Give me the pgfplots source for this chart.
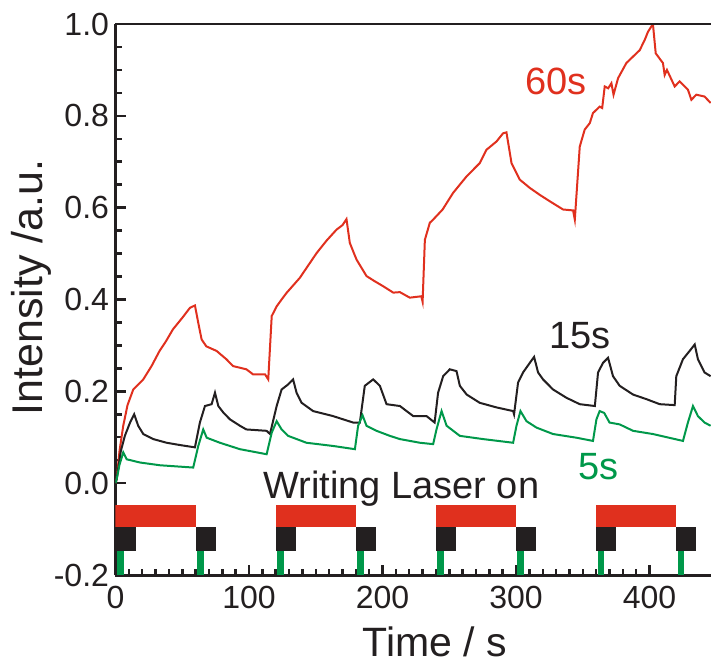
\documentclass[border=0pt]{standalone}
\usepackage{fontspec}
\setmainfont{Liberation Sans}
\usepackage{pgfplots}
\pgfplotsset{compat=1.18}
\definecolor{cred}{HTML}{E0301E}
\definecolor{cblack}{HTML}{231F20}
\definecolor{cgreen}{HTML}{00984A}
\begin{document}
\begin{tikzpicture}
\begin{axis}[
  scale only axis, width=595.5pt, height=551pt,
  xmin=0, xmax=446, ymin=-0.2, ymax=1.0,
  axis lines*=left,
  axis line style={line width=3pt, cblack},
  tick align=inside,
  xtick={0,100,200,300,400}, minor x tick num=9,
  ytick={-0.2,0,0.2,0.4,0.6,0.8,1.0}, minor y tick num=3,
  major tick length=10pt, minor tick length=6pt,
  every tick/.style={line width=2.5pt, cblack},
  /pgf/number format/assume math mode=true,
  tick label style={font=\fontsize{32}{32}\selectfont, text=cblack},
  xticklabel style={yshift=-8pt},
  yticklabel style={xshift=-3pt, /pgf/number format/.cd, fixed, fixed zerofill, precision=1},
  xlabel={Time / s}, ylabel={Intensity /a.u.},
  every axis x label/.style={at={(axis description cs:0.5365,-0.1488)}, anchor=base,
    font=\fontsize{41}{41}\selectfont, text=cblack},
  every axis y label/.style={at={(axis description cs:-0.1234,0.522)}, rotate=90, anchor=base,
    font=\fontsize{43}{43}\selectfont, text=cblack},
  clip=true,
]
\coordinate (O) at (rel axis cs:0,0);
% laser-on indicator bars
\addplot[fill=cred, draw=none] coordinates {(0,-0.047) (60,-0.047) (60,-0.096) (0,-0.096)} -- cycle;
\addplot[fill=cred, draw=none] coordinates {(120,-0.047) (180,-0.047) (180,-0.096) (120,-0.096)} -- cycle;
\addplot[fill=cred, draw=none] coordinates {(240,-0.047) (300,-0.047) (300,-0.096) (240,-0.096)} -- cycle;
\addplot[fill=cred, draw=none] coordinates {(360,-0.047) (420,-0.047) (420,-0.096) (360,-0.096)} -- cycle;
\foreach \s in {0,60,120,180,240,300,360,420}{
  \addplot[fill=cblack, draw=none] coordinates {(\s,-0.096) (\s+15,-0.096) (\s+15,-0.148) (\s,-0.148)} -- cycle;
  \addplot[fill=cgreen, draw=none] coordinates {(\s+1,-0.148) (\s+6,-0.148) (\s+6,-0.2) (\s+1,-0.2)} -- cycle;
}
% 60 s
\addplot[cred, line width=2pt] coordinates {
(0,0.0) (0.9,0.009) (3,0.07) (5.8,0.125) (9,0.17) (13.3,0.204) (20.8,0.226) (27,0.255) (33,0.288)
(38,0.31) (43,0.335) (50,0.36) (55.8,0.382) (59.5,0.387) (62,0.349) (64.5,0.313) (68,0.298)
(75.7,0.288) (83,0.27) (88,0.255) (98,0.248) (103,0.237) (112,0.237) (114.4,0.226)
(117,0.364) (120.7,0.385) (124.4,0.4) (128,0.414) (138,0.447) (150.6,0.501) (158,0.528)
(165.5,0.552) (170,0.562) (173,0.575) (175.5,0.523) (180.5,0.487) (188,0.451) (194,0.44)
(200.4,0.429) (208,0.415) (213,0.416) (220.4,0.404) (229,0.407) (230,0.395)
(231.7,0.53) (235.4,0.567) (237.9,0.574) (245,0.596) (252.8,0.632) (262.9,0.668)
(272.8,0.697) (277.8,0.726) (285.3,0.744) (290.3,0.762) (292.8,0.764) (296.6,0.697)
(302.8,0.661) (310.3,0.643) (317.7,0.628) (325.2,0.614) (335.2,0.596) (342.7,0.594) (344,0.574)
(347.7,0.733) (351.4,0.77) (355.2,0.784) (357.6,0.806) (362.6,0.82) (364.5,0.817)
(366.4,0.864) (369,0.86) (371.4,0.871) (373,0.846) (376.4,0.882) (382.6,0.915) (392.6,0.943)
(396.3,0.965) (398.8,0.983) (402.5,1.0) (404.6,0.936) (410,0.915) (411.3,0.889) (413,0.9)
(418.8,0.864) (422.5,0.875) (428.7,0.857) (431.3,0.835) (435,0.846) (441.2,0.842) (445.7,0.828)
};
% 15 s
\addplot[cblack, line width=2pt] coordinates {
(0,0.0) (0.9,0.009) (4,0.07) (7,0.103) (10.9,0.132) (14,0.15) (17,0.125) (20.8,0.107)
(28.3,0.096) (38.3,0.088) (48.3,0.083) (59.5,0.078) (63.2,0.132) (67,0.168) (72,0.172)
(74.5,0.197) (77,0.168) (80.7,0.154) (85.7,0.139) (93.2,0.125) (98,0.117) (113.2,0.114)
(115.7,0.107) (120.7,0.168) (124.4,0.204) (129.3,0.215) (133,0.226) (135.6,0.197)
(139.4,0.175) (148,0.157) (163,0.146) (178,0.132) (183,0.132) (186.7,0.212) (193,0.226)
(198,0.212) (203,0.172) (213,0.168) (223,0.146) (233,0.146) (239,0.132) (241.6,0.197)
(245.4,0.233) (250.4,0.248) (255.4,0.244) (257.9,0.212) (263,0.193) (272.8,0.175)
(285.3,0.165) (297.8,0.157) (298.5,0.15) (301.5,0.219) (305.2,0.241) (310.3,0.262)
(313.5,0.275) (316.5,0.241) (320.2,0.226) (327.7,0.204) (337.7,0.186) (347.7,0.172)
(359,0.168) (361.4,0.241) (365.1,0.262) (368.9,0.273) (372.6,0.233) (377.6,0.212)
(387.6,0.193) (397.6,0.183) (407.6,0.172) (418.8,0.17) (420,0.233) (425,0.27) (430,0.288)
(433.8,0.302) (436.2,0.27) (441.2,0.241) (445.7,0.233)
};
% 5 s
\addplot[cgreen, line width=2pt] coordinates {
(0,0.0) (0.9,0.009) (3,0.04) (5.8,0.067) (8.4,0.052) (18.3,0.045) (33.3,0.039) (58.2,0.034)
(62,0.081) (65.7,0.117) (68.3,0.099) (78.2,0.088) (93.2,0.074) (113.2,0.063) (117,0.11)
(120.7,0.135) (124.4,0.117) (129.3,0.103) (143,0.088) (163,0.081) (179.3,0.074) (181.7,0.125)
(185,0.148) (188,0.125) (195.5,0.114) (205.5,0.103) (213,0.096) (228,0.088) (237.9,0.085)
(240.4,0.117) (244.2,0.157) (248,0.125) (257.9,0.103) (275.3,0.096) (297.8,0.088)
(300.3,0.125) (303.3,0.157) (307.8,0.135) (315.3,0.121) (327.7,0.107) (345.2,0.099)
(357.6,0.092) (360.2,0.139) (362.6,0.157) (366,0.153) (370,0.132) (377.6,0.128)
(387.6,0.114) (402.5,0.107) (425,0.092) (428.7,0.132) (432.5,0.168) (436.2,0.146)
(441.2,0.132) (445.7,0.125)
};
\node[text=cred, font=\fontsize{38}{38}\selectfont] at (axis cs:330,0.875) {60s};
\node[text=cblack, font=\fontsize{38}{38}\selectfont] at (axis cs:348,0.322) {15s};
\node[text=cgreen, font=\fontsize{38}{38}\selectfont] at (axis cs:362,0.037) {5s};
\node[text=cblack, font=\fontsize{38}{38}\selectfont] at (axis cs:214,-0.013) {Writing Laser on};
\draw[line width=3pt, cblack] (rel axis cs:0,1) -- (rel axis cs:1,1);
\end{axis}
\pgfresetboundingbox
\path (O) ++(-115.5pt,-88pt) rectangle ++(711pt,663pt);
\end{tikzpicture}
\end{document}
